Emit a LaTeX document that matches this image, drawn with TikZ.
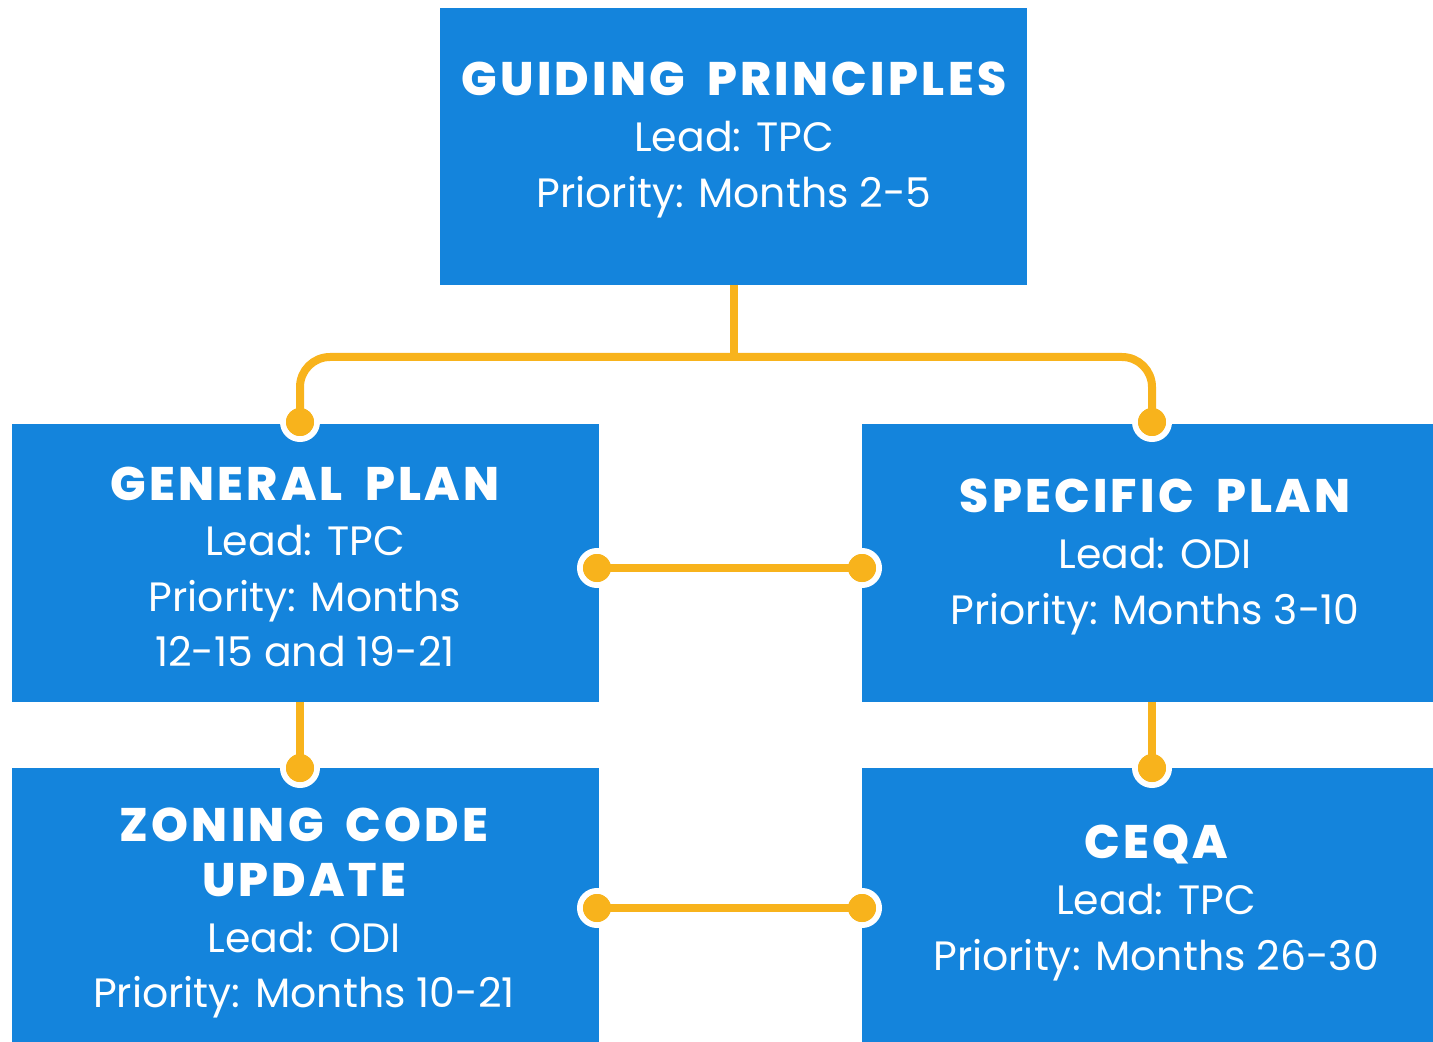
\documentclass[tikz,border=0pt]{standalone}
\usepackage{fontspec}
\setmainfont{Poppins}
\newfontfamily\ttlfontface[LetterSpace=7,WordSpace=1.8]{Poppins ExtraBold}
\newcommand{\ttlfont}{\ttlfontface\fontsize{23.5}{27.8}\selectfont}
\definecolor{boxblue}{HTML}{1484DC}
\definecolor{linkorange}{HTML}{F8B31C}
\begin{document}
\begin{tikzpicture}[x=0.5pt,y=-0.5pt,
  box/.style={fill=boxblue, draw=none, inner sep=0pt},
  txt/.style={text=white, align=center, inner sep=0pt,
    font=\fontsize{20.5}{27.8}\selectfont},
  conn/.style={draw=linkorange, line width=4pt},
  dotnode/.style={circle, fill=linkorange, draw=white, line width=3pt, minimum size=17pt, inner sep=0pt}]
\useasboundingbox (0,0) rectangle (1433,1042);
\node[box, minimum width=293.5pt, minimum height=138.5pt] (gp0) at (733.5,146.5) {};
\node[box, minimum width=293.5pt, minimum height=139pt] (gen) at (305.5,563) {};
\node[box, minimum width=285.5pt, minimum height=139pt] (spec) at (1147.5,563) {};
\node[box, minimum width=293.5pt, minimum height=137pt] (zon) at (305.5,905) {};
\node[box, minimum width=285.5pt, minimum height=137pt] (ceqa) at (1147.5,905) {};
\node[txt] (gp0t) at (734,140) {{\ttlfont GUIDING PRINCIPLES}\\Lead: TPC\\Priority: Months 2-5};
\node[txt] (gent) at (305,567) {{\ttlfont GENERAL PLAN}\\Lead: TPC\\Priority: Months\\12-15 and 19-21};
\node[txt] (spect) at (1155,557) {{\ttlfont SPECIFIC PLAN}\\Lead: ODI\\Priority: Months 3-10};
\node[txt] (zont) at (304,913) {{\ttlfont ZONING CODE}\\{\ttlfont UPDATE}\\Lead: ODI\\Priority: Months 10-21};
\node[txt] (ceqat) at (1156,903) {{\ttlfont CEQA}\\Lead: TPC\\Priority: Months 26-30};
% dots
\node[dotnode] (dgen) at (300,422) {};
\node[dotnode] (dspec) at (1152,422) {};
\node[dotnode] (dgr) at (597,568) {};
\node[dotnode] (dsl) at (862,568) {};
\node[dotnode] (dzon) at (300,768) {};
\node[dotnode] (dceqa) at (1152,768) {};
\node[dotnode] (dzr) at (597,908) {};
\node[dotnode] (dcl) at (862,908) {};
\coordinate (hub) at (734,357);
% connectors
\draw[conn] (gp0.south -| hub) -- (hub);
\draw[conn, rounded corners=15pt] (hub) -| (dgen.center);
\draw[conn, rounded corners=15pt] (hub) -| (dspec.center);
\draw[conn] (dgr.center) -- (dsl.center);
\draw[conn] (dzr.center) -- (dcl.center);
\draw[conn] (dgen.center |- gen.south) -- (dzon.center);
\draw[conn] (dspec.center |- spec.south) -- (dceqa.center);
% redraw dot fills on top of the connector ends
\foreach \d in {dgen,dspec,dgr,dsl,dzon,dceqa,dzr,dcl}
  \fill[linkorange] (\d) circle (7pt);
\end{tikzpicture}
\end{document}
